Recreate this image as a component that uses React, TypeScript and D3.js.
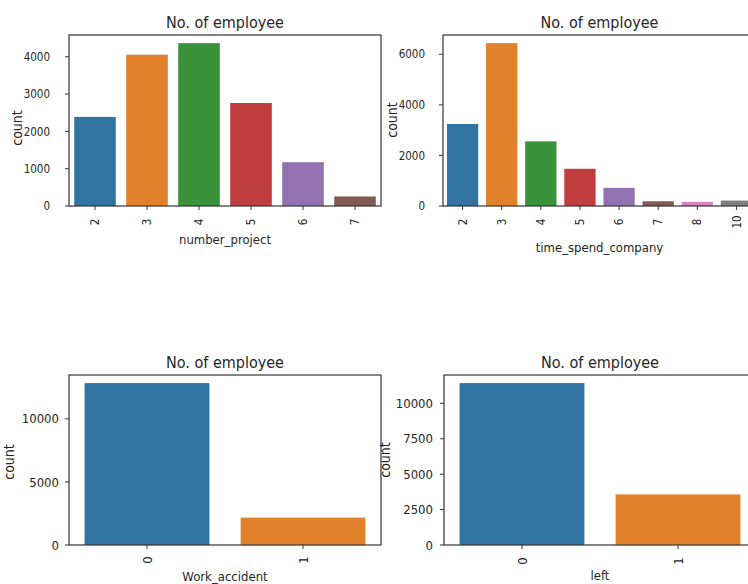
import React from "react";
import * as d3 from "d3";

const projectCats = ["2", "3", "4", "5", "6", "7"];
const projectCounts = [2388, 4055, 4365, 2761, 1174, 256];
const projectTicks = [0, 1000, 2000, 3000, 4000];

const timeCats = ["2", "3", "4", "5", "6", "7", "8", "10"];
const timeCounts = [3244, 6443, 2557, 1473, 718, 188, 162, 214];
const timeTicks = [0, 2000, 4000, 6000];

const accidentCats = ["0", "1"];
const accidentCounts = [12830, 2169];
const accidentTicks = [0, 5000, 10000];

const leftCats = ["0", "1"];
const leftCounts = [11428, 3571];
const leftTicks = [0, 2500, 5000, 7500, 10000];

const palette = ["#3274a1", "#e1812c", "#3a923a", "#c03d3e", "#9372b2", "#845b53", "#d684bd", "#7f7f7f"];

const FONT = "'DejaVu Sans Condensed', 'DejaVu Sans', sans-serif";
const INK = "#262626";

type PanelProps = {
  cats: string[];
  counts: number[];
  ticks: number[];
  xLabel: string;
  x0: number;
  y0: number;
  w: number;
  h: number;
  titleY: number;
  tickFont: number;
  tickLabelX: number;
  xTickY: number;
  xLabelY: number;
  yLabelX: number;
  yLabelY: number;
};

function Panel(p: PanelProps) {
  const x = d3.scaleBand<string>().domain(p.cats).range([p.x0, p.x0 + p.w]).paddingInner(0.2).paddingOuter(0.1);
  const ymax = (d3.max(p.counts) as number) * 1.05;
  const y = d3.scaleLinear().domain([0, ymax]).range([p.y0 + p.h, p.y0]);
  const cx = (c: string) => (x(c) as number) + x.bandwidth() / 2;
  return (
    <g>
      {p.cats.map((c, i) => (
        <rect key={c} x={x(c)} y={y(p.counts[i])} width={x.bandwidth()} height={y(0) - y(p.counts[i])} fill={palette[i]} />
      ))}
      <rect x={p.x0} y={p.y0} width={p.w} height={p.h} fill="none" stroke="#333" strokeWidth={1.2} />
      {p.ticks.map((t) => (
        <g key={t}>
          <line x1={p.x0 - 4} x2={p.x0} y1={y(t)} y2={y(t)} stroke="#333" strokeWidth={1} />
          <text x={p.tickLabelX} y={y(t)} dy="0.36em" textAnchor="end" fontSize={p.tickFont} fill={INK} fontFamily={FONT}>
            {t}
          </text>
        </g>
      ))}
      {p.cats.map((c) => (
        <g key={"xt" + c}>
          <line x1={cx(c)} x2={cx(c)} y1={p.y0 + p.h} y2={p.y0 + p.h + 4} stroke="#333" strokeWidth={1} />
          <text
            transform={`translate(${cx(c)},${p.xTickY}) rotate(-90)`}
            textAnchor="middle"
            dy="0.36em"
            fontSize={p.tickFont}
            fill={INK}
            fontFamily={FONT}
          >
            {c}
          </text>
        </g>
      ))}
      <text x={p.x0 + p.w / 2} y={p.titleY} textAnchor="middle" fontSize={16} fill={INK} fontFamily={FONT}>
        No. of employee
      </text>
      <text x={p.x0 + p.w / 2} y={p.xLabelY} textAnchor="middle" fontSize={13} fill={INK} fontFamily={FONT}>
        {p.xLabel}
      </text>
      <text
        transform={`translate(${p.yLabelX},${p.yLabelY}) rotate(-90)`}
        textAnchor="middle"
        dy="0.36em"
        fontSize={14}
        fill={INK}
        fontFamily={FONT}
      >
        count
      </text>
    </g>
  );
}

export default function App() {
  return (
    <svg width={748} height={584} style={{ position: "absolute", left: 0, top: 0, background: "#fff" }}>
      <rect width={748} height={584} fill="#fff" />
      <Panel cats={projectCats} counts={projectCounts} ticks={projectTicks} xLabel="number_project"
        x0={69} y0={35} w={312} h={171} titleY={28} tickFont={11.5} tickLabelX={50} xTickY={222} xLabelY={244} yLabelX={17} yLabelY={128} />
      <Panel cats={timeCats} counts={timeCounts} ticks={timeTicks} xLabel="time_spend_company"
        x0={443} y0={35} w={313} h={171} titleY={28} tickFont={11.5} tickLabelX={425} xTickY={222} xLabelY={252} yLabelX={392} yLabelY={120} />
      <Panel cats={accidentCats} counts={accidentCounts} ticks={accidentTicks} xLabel="Work_accident"
        x0={69} y0={375} w={312} h={170} titleY={368} tickFont={13} tickLabelX={59} xTickY={560} xLabelY={581} yLabelX={9} yLabelY={462} />
      <Panel cats={leftCats} counts={leftCounts} ticks={leftTicks} xLabel="left"
        x0={444} y0={375} w={312} h={170} titleY={368} tickFont={13} tickLabelX={433} xTickY={561} xLabelY={580} yLabelX={385} yLabelY={460} />
    </svg>
  );
}
